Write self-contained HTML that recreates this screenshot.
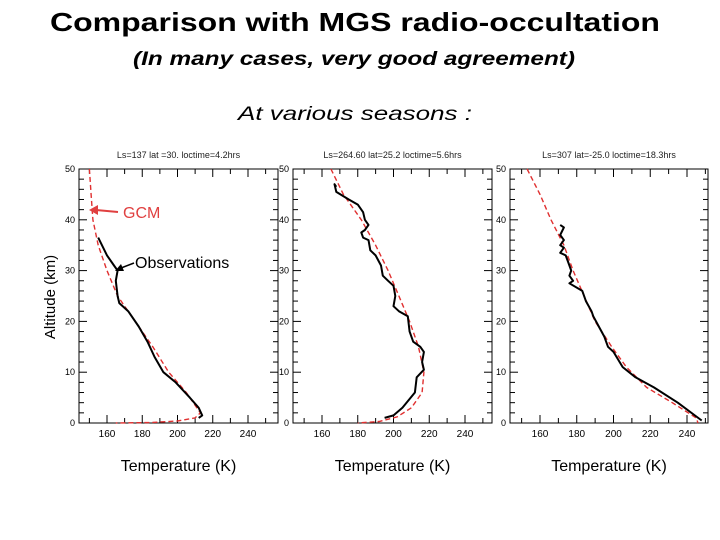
<!DOCTYPE html>
<html><head><meta charset="utf-8"><style>
body{margin:0;background:#fff;width:720px;height:540px;overflow:hidden}
svg{display:block;font-family:"Liberation Sans",sans-serif}
</style></head><body>
<svg id="c" width="720" height="540">
<text x="355" y="31" font-size="26" font-weight="bold" text-anchor="middle" textLength="610" lengthAdjust="spacingAndGlyphs">Comparison with MGS radio-occultation</text>
<text x="354" y="65" font-size="19" font-weight="bold" font-style="italic" text-anchor="middle" textLength="442" lengthAdjust="spacingAndGlyphs">(In many cases, very good agreement)</text>
<text x="355" y="120" font-size="19" font-style="italic" text-anchor="middle" textLength="234" lengthAdjust="spacingAndGlyphs">At various seasons :</text>
<text transform="translate(55,297) rotate(-90)" font-size="15" text-anchor="middle">Altitude (km)</text>
<g id="panels"></g>
<text x="123" y="218" font-size="16" fill="#e04040">GCM</text>
<line x1="118" y1="212" x2="96" y2="210" stroke="#e04040" stroke-width="2"/>
<polygon points="89,210 98,205 98,215" fill="#e04040"/>
<text x="135" y="268" font-size="16">Observations</text>
<line x1="134" y1="263" x2="121" y2="268" stroke="#000" stroke-width="1.5"/>
<polygon points="115,271 121,264 124,271" fill="#000"/>
</svg>
<script>
const panelTitles=["Ls=137   lat =30. loctime=4.2hrs","Ls=264.60 lat=25.2 loctime=5.6hrs","Ls=307  lat=-25.0 loctime=18.3hrs"];
const xTicks=[160,180,200,220,240];
const yTicks=[0,10,20,30,40,50];
const gcm1T=[150,151,152,155,160,166,176,186,195,205,211,213,210,200,185,165];
const gcm1Z=[50,45,40,35,30,25,20,15,10,6,3,2,1,0.4,0.1,0];
const obs1T=[155,160,164,166,165,166,167,172,178,183,187,192,199,207,212,214,212];
const obs1Z=[36.5,33,31,30,28,25,23.6,22,19,16,13,10,8,5,3,1.5,1];
const gcm2T=[165,172,182,190,197,203,209,214,217,216,210,202,192,180];
const gcm2Z=[50,45,40,35,30,25,20,15,10,6,3,1.2,0.3,0];
const obs2T=[168,167,168,175,180,183,184,186,184,182,183,186,187,190,193,194,197,200,201,200,203,208,209,211,215,217,216,217,213,212,205,200,195];
const obs2Z=[46.5,47,45.5,44,43,41.5,40,39,38,37.5,36.5,36,34,33,31,29,28,27,25,23,22,21,18,16,15,14,12,10.5,9,6,3,1.5,1];
const gcm3T=[153,160,166,173,178,184,190,199,207,218,232,245,246];
const gcm3Z=[50,45,40,35,30,25,20,15,11,7,4,1,0];
const obs3T=[171,173,171,173,171,173,171,174,176,177,176,178,176,183,185,188,189,192,195,197,200,205,212,222,235,248];
const obs3Z=[39,38.5,37,36,35,34.5,33.5,33,31,30,29,28,27.5,26,24,22,21,19,17,15,14,11,9,7,4,0.5];
const gcmT=[gcm1T,gcm2T,gcm3T],gcmZ=[gcm1Z,gcm2Z,gcm3Z],obsT=[obs1T,obs2T,obs3T],obsZ=[obs1Z,obs2Z,obs3Z];
const boxes=[{l:79,r:278,x160:107,x240:248},{l:293,r:492,x160:322,x240:465},{l:510,r:708,x160:540,x240:687}];
const plotTop=169,plotBot=423;
const NS="http://www.w3.org/2000/svg";
const G=document.getElementById('panels');
function mk(t,a,p){const e=document.createElementNS(NS,t);for(const k in a)e.setAttribute(k,a[k]);(p||G).appendChild(e);return e;}
const yScale=z=>plotBot-(z/50)*(plotBot-plotTop);
boxes.forEach((b,i)=>{
  const g=mk('g',{});
  
  
  const xs=T=>b.x160+(T-160)*(b.x240-b.x160)/80;
  const rect=mk('rect',{x:b.l,y:plotTop,width:b.r-b.l,height:plotBot-plotTop,fill:'none',stroke:'#000','stroke-width':1},g);
  
  
  const tt=mk('text',{x:(b.l+b.r)/2,y:158,'font-size':9,'text-anchor':'middle',fill:'#222'},g);
  tt.textContent=panelTitles[i];
  
  
  for(let T=150;T<=250;T+=10){const x=xs(T);if(x<=b.l||x>=b.r)continue;const L=T%20===0?8:5;
    mk('line',{x1:x,y1:plotBot,x2:x,y2:plotBot-L,stroke:'#000'},g);mk('line',{x1:x,y1:plotTop,x2:x,y2:plotTop+L,stroke:'#000'},g);}
  for(let z=2;z<50;z+=2){const y=yScale(z);const L=z%10===0?8:5;
    mk('line',{x1:b.l,y1:y,x2:b.l+L,y2:y,stroke:'#000'},g);mk('line',{x1:b.r,y1:y,x2:b.r-L,y2:y,stroke:'#000'},g);}
  xTicks.forEach(T=>{const t=mk('text',{x:xs(T),y:437,'font-size':10,'text-anchor':'middle'},g);t.textContent=T;
    
    });
  yTicks.forEach(z=>{const t=mk('text',{x:b.l-4,y:yScale(z)+3,'font-size':9,'text-anchor':'end'},g);t.textContent=z;
    
    });
  const xt=mk('text',{x:(b.l+b.r)/2,y:471,'font-size':16,'text-anchor':'middle'},g);xt.textContent='Temperature (K)';
  
  
  const pg=gcmT[i].map((T,j)=>xs(T).toFixed(1)+','+yScale(gcmZ[i][j]).toFixed(1)).join(' ');
  const lg=mk('polyline',{points:pg,fill:'none',stroke:'#e03030','stroke-width':1.4,'stroke-dasharray':'5,3'},g);
  
  
  const po=obsT[i].map((T,j)=>xs(T).toFixed(1)+','+yScale(obsZ[i][j]).toFixed(1)).join(' ');
  const lo=mk('polyline',{points:po,fill:'none',stroke:'#000','stroke-width':2,'stroke-linejoin':'round'},g);
  
  
});
</script>
</body></html>
